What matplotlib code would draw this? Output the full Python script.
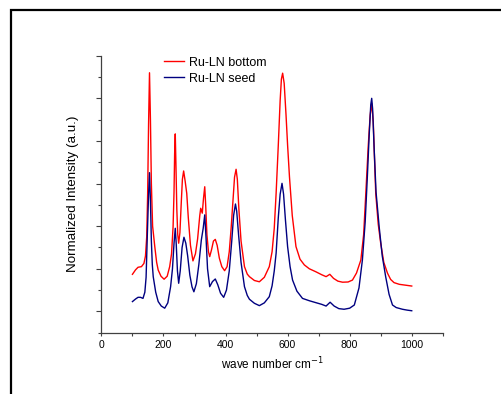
import matplotlib
matplotlib.use("Agg")
import matplotlib.pyplot as plt
from matplotlib.patches import Rectangle
from matplotlib.ticker import MultipleLocator, NullFormatter

plt.rcParams["font.family"] = ["Liberation Sans", "DejaVu Sans"]

# Raman spectra (wave number cm^-1, normalized intensity a.u.)
bottom_wn = [100, 110, 118, 129, 137, 142, 146, 149, 152, 155, 158, 161, 165, 172, 178, 183,
             192, 202, 212, 220, 226, 231, 234, 236, 238, 240, 243, 246, 249, 253, 257, 261,
             265, 270, 275, 280, 287, 295, 303, 310, 317, 320, 325, 329, 333, 336, 340, 345,
             349, 355, 361, 367, 373, 380, 388, 397, 405, 412, 418, 424, 429, 434, 438, 443,
             450, 461, 470, 477, 493, 509, 525, 541, 550, 557, 563, 570, 576, 580, 584, 589,
             595, 600, 606, 615, 627, 640, 654, 670, 691, 710, 724, 736, 748, 762, 777, 795,
             809, 822, 836, 845, 852, 860, 866, 871, 876, 880, 884, 892, 900, 910, 922, 932,
             943, 960, 980, 1000]
bottom_int = [2.74, 2.95, 3.07, 3.10, 3.25, 3.6, 4.5, 6.5, 9.8, 12.2, 10.0, 7.0, 5.0, 4.04, 3.3, 2.94,
              2.65, 2.51, 2.65, 3.10, 3.7, 4.98, 6.6, 8.4, 9.33, 8.0, 5.8, 4.6, 4.20, 4.7, 6.0, 7.2,
              7.59, 7.1, 6.54, 5.4, 4.1, 3.37, 3.7, 4.4, 5.5, 5.84, 5.61, 6.3, 6.85, 6.0, 4.6, 3.8,
              3.57, 3.9, 4.3, 4.38, 4.1, 3.5, 3.1, 2.91, 3.1, 3.8, 4.9, 6.2, 7.3, 7.67, 7.2, 5.8,
              4.3, 3.10, 2.75, 2.63, 2.45, 2.39, 2.6, 3.10, 3.8, 4.9, 6.54, 8.8, 10.9, 11.9, 12.18, 11.7,
              10.2, 8.8, 7.32, 5.5, 4.04, 3.45, 3.18, 3.0, 2.86, 2.72, 2.63, 2.74, 2.55, 2.42, 2.37, 2.38,
              2.47, 2.8, 3.41, 4.6, 6.54, 8.8, 10.2, 10.77, 9.9, 8.2, 6.54, 5.1, 4.20, 3.3, 2.79, 2.5,
              2.35, 2.27, 2.23, 2.19]

seed_wn = [100, 110, 118, 126, 134, 140, 144, 148, 152, 155, 158, 161, 164, 167, 175, 183,
           193, 204, 214, 223, 229, 234, 238, 241, 245, 249, 254, 260, 266, 272, 278, 285,
           292, 298, 306, 314, 322, 328, 333, 337, 342, 349, 358, 367, 375, 384, 394, 403,
           412, 420, 426, 432, 436, 442, 450, 461, 470, 477, 493, 509, 525, 541, 550, 557,
           563, 570, 576, 582, 587, 593, 600, 608, 616, 630, 648, 670, 691, 710, 724, 737,
           750, 765, 782, 800, 815, 830, 841, 850, 857, 863, 868, 871, 874, 879, 885, 895,
           905, 916, 927, 938, 950, 970, 985, 1000]
seed_int = [1.46, 1.58, 1.66, 1.66, 1.61, 1.9, 2.6, 4.6, 6.5, 7.51, 6.2, 4.3, 3.2, 2.63, 1.9, 1.46,
            1.25, 1.15, 1.4, 2.16, 3.0, 4.2, 4.90, 4.2, 2.9, 2.32, 2.9, 4.0, 4.48, 4.2, 3.6, 2.7,
            2.15, 1.92, 2.3, 3.2, 4.35, 4.9, 5.53, 4.5, 3.0, 2.16, 2.4, 2.52, 2.25, 1.85, 1.66, 2.0,
            2.9, 4.3, 5.5, 6.04, 5.7, 4.6, 3.3, 2.16, 1.75, 1.57, 1.38, 1.27, 1.4, 1.69, 2.2, 2.9,
            3.73, 5.4, 6.5, 7.01, 6.5, 5.3, 4.04, 3.1, 2.47, 1.95, 1.61, 1.5, 1.41, 1.33, 1.25, 1.43,
            1.25, 1.13, 1.10, 1.15, 1.30, 2.1, 3.41, 5.2, 7.32, 9.3, 10.7, 11.0, 10.5, 8.6, 6.6, 4.98,
            3.6, 2.63, 1.8, 1.30, 1.18, 1.10, 1.06, 1.03]

fig = plt.figure(figsize=(5.02, 3.94), dpi=100)
ax = fig.add_axes([0.202, 0.1556, 0.680, 0.703])

# outer frame (its right and bottom edges run off the image)
fig.patches.append(Rectangle((11 / 502, -0.1), 1.2, 1.1 - 10 / 394,
                             transform=fig.transFigure, fill=False,
                             edgecolor="black", linewidth=1.6, clip_on=False))

ax.plot(bottom_wn, bottom_int, color="#ff0000", linewidth=1.0, label="Ru-LN bottom")
ax.plot(seed_wn, seed_int, color="#000080", linewidth=1.0, label="Ru-LN seed")

ax.set_xlim(0, 1100)
ax.set_ylim(0, 13)
ax.xaxis.set_major_locator(MultipleLocator(200))
ax.xaxis.set_minor_locator(MultipleLocator(100))
ax.yaxis.set_minor_locator(MultipleLocator(1))
ax.set_yticks([1, 3, 5, 7, 9, 11, 13])
ax.yaxis.set_major_formatter(NullFormatter())

for side in ("top", "right"):
    ax.spines[side].set_visible(False)
for side in ("left", "bottom"):
    ax.spines[side].set_color("#404040")
    ax.spines[side].set_linewidth(0.9)

ax.tick_params(axis="x", which="both", direction="out", length=2.5, width=0.8,
               color="#404040", labelsize=7.5, pad=3)
ax.tick_params(axis="y", which="major", direction="out", length=3.5, width=0.8, color="#404040")
ax.tick_params(axis="y", which="minor", direction="out", length=2, width=0.8, color="#404040")

ax.set_xlabel("wave number cm$^{-1}$", fontsize=8.5, labelpad=4)
ax.set_ylabel("Normalized Intensity (a.u.)", fontsize=9.6, labelpad=9)

ax.legend(loc="upper left", bbox_to_anchor=(0.17, 1.015), frameon=False,
          fontsize=9, handlelength=1.6, handletextpad=0.4, labelspacing=0.32,
          borderaxespad=0)

fig.savefig("out.png", dpi=100)
